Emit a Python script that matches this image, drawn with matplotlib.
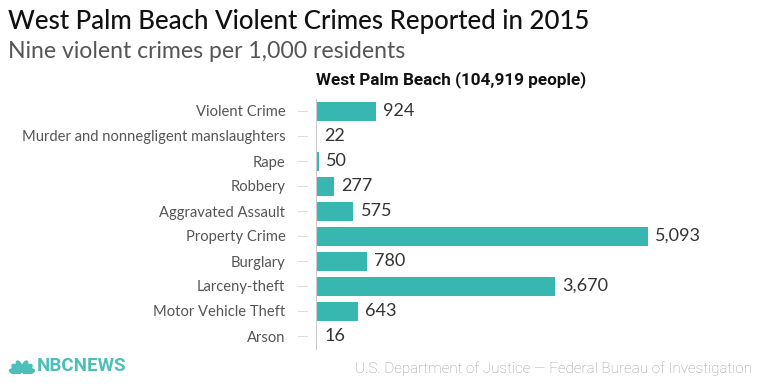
import matplotlib.pyplot as plt
from matplotlib.patches import Ellipse
from matplotlib.transforms import blended_transform_factory
import numpy as np

categories = ['Violent Crime', 'Murder and nonnegligent manslaughters', 'Rape', 'Robbery',
              'Aggravated Assault', 'Property Crime', 'Burglary', 'Larceny-theft',
              'Motor Vehicle Theft', 'Arson']
values = [924, 22, 50, 277, 575, 5093, 780, 3670, 643, 16]

title = 'West Palm Beach Violent Crimes Reported in 2015'
subtitle = 'Nine violent crimes per 1,000 residents'
series_name = 'West Palm Beach (104,919 people)'
source = 'U.S. Department of Justice \u2014 Federal Bureau of Investigation'

W, H = 760, 388
fig = plt.figure(figsize=(W / 100, H / 100), dpi=100)

# axes placed in pixel terms: x axis starts at 316px, 5093 ends near 648px
left, right = 316, 700
top, bottom = 98.5, 348.5
ax = fig.add_axes([left / W, 1 - bottom / H, (right - left) / W, (bottom - top) / H])
ax.set_xlim(0, 5093 * (right - left) / 332)
ax.set_ylim(len(categories) - 0.5, -0.5)

bar_color = '#38b6b0'
ypos = list(range(len(categories)))
ax.barh(ypos, values, height=0.76, color=bar_color)
for y, v in zip(ypos, values):
    ax.text(v + 110, y, f'{v:,}', va='center', ha='left', fontsize=13,
            color='#333333', family='Lato')

ax.set_yticks(ypos)
ax.set_yticklabels(categories, fontsize=10.6, color='#555555', family='Lato')
ax.tick_params(axis='y', length=0, pad=22)
ax.set_xticks([])
for s in ['top', 'right', 'bottom']:
    ax.spines[s].set_visible(False)
ax.spines['left'].set_color('#cccccc')
ax.spines['left'].set_linewidth(0.8)

# little dashes between labels and axis
trans = blended_transform_factory(fig.transFigure, ax.transData)
for y in ypos:
    ax.plot([298 / W, 307 / W], [y, y], color='#dddddd', lw=0.8,
            transform=trans, clip_on=False)

fig.text(8 / W, 1 - 21 / H, title, fontsize=18.6, color='#111111', va='center',
         ha='left', family='Lato', fontweight='medium')
fig.text(8 / W, 1 - 51 / H, subtitle, fontsize=16.6, color='#555555', va='center',
         ha='left', family='Lato')
fig.text(left / W, 1 - 80 / H, series_name, fontsize=12.3, color='#111111',
         va='center', ha='left', family='Roboto', fontweight='bold')

# NBC peacock logo
logo_color = '#4dbfb8'
lax = fig.add_axes([8 / W, 1 - 374 / H, 28 / W, 16 / H])
lax.set_xlim(-14, 14)
lax.set_ylim(-1, 15)
lax.axis('off')
for ang in [12, 40, 68, 112, 140, 168]:
    a = np.radians(ang)
    lax.add_patch(Ellipse((7 * np.cos(a), 7 * np.sin(a)), 13, 6.5, angle=ang,
                          color=logo_color, lw=0))

fig.text(37 / W, 1 - 366 / H, 'NBCNEWS', fontsize=13.5, color=logo_color, va='center',
         ha='left', family='Roboto', fontweight='bold')
fig.text(752 / W, 1 - 369 / H, source, fontsize=11, color='#999999', va='center',
         ha='right', family='Roboto', fontweight='light')

fig.savefig('out.png', dpi=100, facecolor='white')
